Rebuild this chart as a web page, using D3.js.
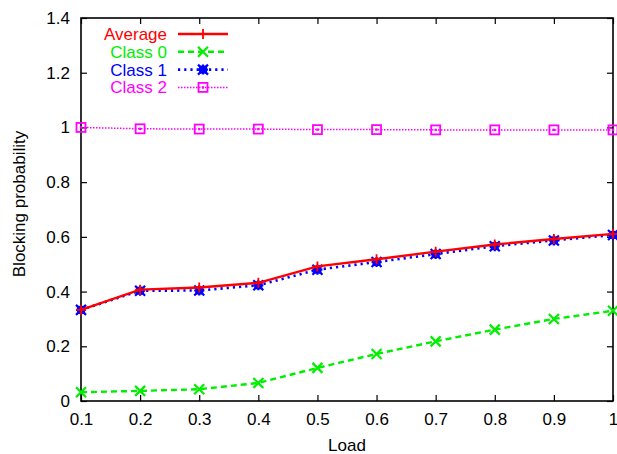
<!DOCTYPE html>
<html>
<head>
<meta charset="utf-8">
<script src="https://cdn.jsdelivr.net/npm/d3@7"></script>
<style>
  body { margin: 0; background: #fff; }
  text { font-family: "Liberation Sans", Arial, sans-serif; }
</style>
</head>
<body>
<div id="chart"></div>
<script>
// data
const loads = [0.1, 0.2, 0.3, 0.4, 0.5, 0.6, 0.7, 0.8, 0.9, 1.0];
const average = [0.333, 0.407, 0.415, 0.432, 0.492, 0.518, 0.546, 0.572, 0.592, 0.611];
const class0 = [0.032, 0.037, 0.043, 0.066, 0.121, 0.172, 0.218, 0.261, 0.300, 0.330];
const class1 = [0.333, 0.403, 0.404, 0.423, 0.480, 0.508, 0.537, 0.566, 0.587, 0.607];
const class2 = [1.0, 0.995, 0.994, 0.994, 0.992, 0.992, 0.991, 0.991, 0.991, 0.991];
const xTicks = [0.1, 0.2, 0.3, 0.4, 0.5, 0.6, 0.7, 0.8, 0.9, 1];
const yTicks = [0, 0.2, 0.4, 0.6, 0.8, 1, 1.2, 1.4];

const series = [
  { name: 'Average', values: average, color: '#ff0000', dash: null, width: 2.4, marker: 'plus' },
  { name: 'Class 0', values: class0, color: '#00ee00', dash: '6,4', width: 2.4, marker: 'cross' },
  { name: 'Class 1', values: class1, color: '#0000ff', dash: '2.2,4', width: 2.6, marker: 'star' },
  { name: 'Class 2', values: class2, color: '#ff00ff', dash: '1.5,1.5', width: 1.5, marker: 'square' }
];

const W = 617, H = 454;
const margin = { top: 18, right: 4, bottom: 53, left: 81 };
const width = W - margin.left - margin.right;
const height = H - margin.top - margin.bottom;
const fs = 17;

const svg = d3.select('#chart').append('svg').attr('width', W).attr('height', H);
const g = svg.append('g').attr('transform', `translate(${margin.left},${margin.top})`);

const x = d3.scaleLinear().domain([0.1, 1]).range([0, width]);
const y = d3.scaleLinear().domain([0, 1.4]).range([height, 0]);

// ticks inward on all four sides
const tick = 6;
g.append('g').attr('transform', `translate(0,${height})`)
  .call(d3.axisBottom(x).tickValues(xTicks).tickSize(-tick).tickPadding(12).tickFormat(d3.format('')));
g.append('g').call(d3.axisTop(x).tickValues(xTicks).tickSize(-tick).tickFormat(''));
g.append('g').call(d3.axisLeft(y).tickValues(yTicks).tickSize(-tick).tickPadding(11).tickFormat(d3.format('')));
g.append('g').attr('transform', `translate(${width},0)`)
  .call(d3.axisRight(y).tickValues(yTicks).tickSize(-tick).tickFormat(''));

g.selectAll('.domain').remove();
g.selectAll('.tick line').attr('stroke', '#000').attr('stroke-width', 1.2);
g.selectAll('.tick text').attr('font-size', fs).attr('fill', '#000');
g.append('rect').attr('width', width).attr('height', height)
  .attr('fill', 'none').attr('stroke', '#000').attr('stroke-width', 1.6);

svg.append('text').attr('x', margin.left + width / 2).attr('y', 451)
  .attr('text-anchor', 'middle').attr('font-size', fs).text('Load');
svg.append('text').attr('transform', `translate(25,${margin.top + 186}) rotate(-90)`)
  .attr('text-anchor', 'middle').attr('font-size', fs).text('Blocking probability');

function drawMarker(sel, type, color) {
  const s = 5;
  if (type === 'plus') {
    sel.append('path').attr('d', `M${-s},0H${s}M0,${-s}V${s}`)
      .attr('stroke', color).attr('stroke-width', 1.8).attr('fill', 'none');
  } else if (type === 'cross') {
    sel.append('path').attr('d', `M${-s},${-s}L${s},${s}M${-s},${s}L${s},${-s}`)
      .attr('stroke', color).attr('stroke-width', 2.2).attr('fill', 'none');
  } else if (type === 'star') {
    sel.append('path').attr('d', `M${-s},0H${s}M0,${-s}V${s}M${-s},${-s}L${s},${s}M${-s},${s}L${s},${-s}`)
      .attr('stroke', color).attr('stroke-width', 2.2).attr('fill', 'none');
    sel.append('rect').attr('x', -4).attr('y', -4).attr('width', 8).attr('height', 8).attr('fill', color);
  } else if (type === 'square') {
    sel.append('rect').attr('x', -4.5).attr('y', -4.5).attr('width', 9).attr('height', 9)
      .attr('stroke', color).attr('stroke-width', 1.8).attr('fill', 'none');
    sel.append('rect').attr('x', -1.2).attr('y', -1.2).attr('width', 2.4).attr('height', 2.4).attr('fill', color);
  }
}

const line = d3.line().x((d, i) => x(loads[i])).y(d => y(d));

// draw in reverse so Average ends up over Class 1
series.slice().reverse().forEach(s => {
  g.append('path').datum(s.values)
    .attr('d', line).attr('fill', 'none')
    .attr('stroke', s.color).attr('stroke-width', s.width)
    .attr('stroke-dasharray', s.dash);
  s.values.forEach((v, i) => {
    const m = g.append('g').attr('transform', `translate(${x(loads[i])},${y(v)})`);
    drawMarker(m, s.marker, s.color);
  });
});

// legend
const legend = g.append('g');
series.forEach((s, i) => {
  const ly = 16 + i * 17.8;
  legend.append('text').attr('x', 86).attr('y', ly + 6)
    .attr('text-anchor', 'end').attr('font-size', fs).attr('fill', s.color).text(s.name);
  legend.append('line').attr('x1', 97).attr('x2', 147).attr('y1', ly).attr('y2', ly)
    .attr('stroke', s.color).attr('stroke-width', s.width).attr('stroke-dasharray', s.dash);
  const m = legend.append('g').attr('transform', `translate(122,${ly})`);
  drawMarker(m, s.marker, s.color);
});
</script>
</body>
</html>
